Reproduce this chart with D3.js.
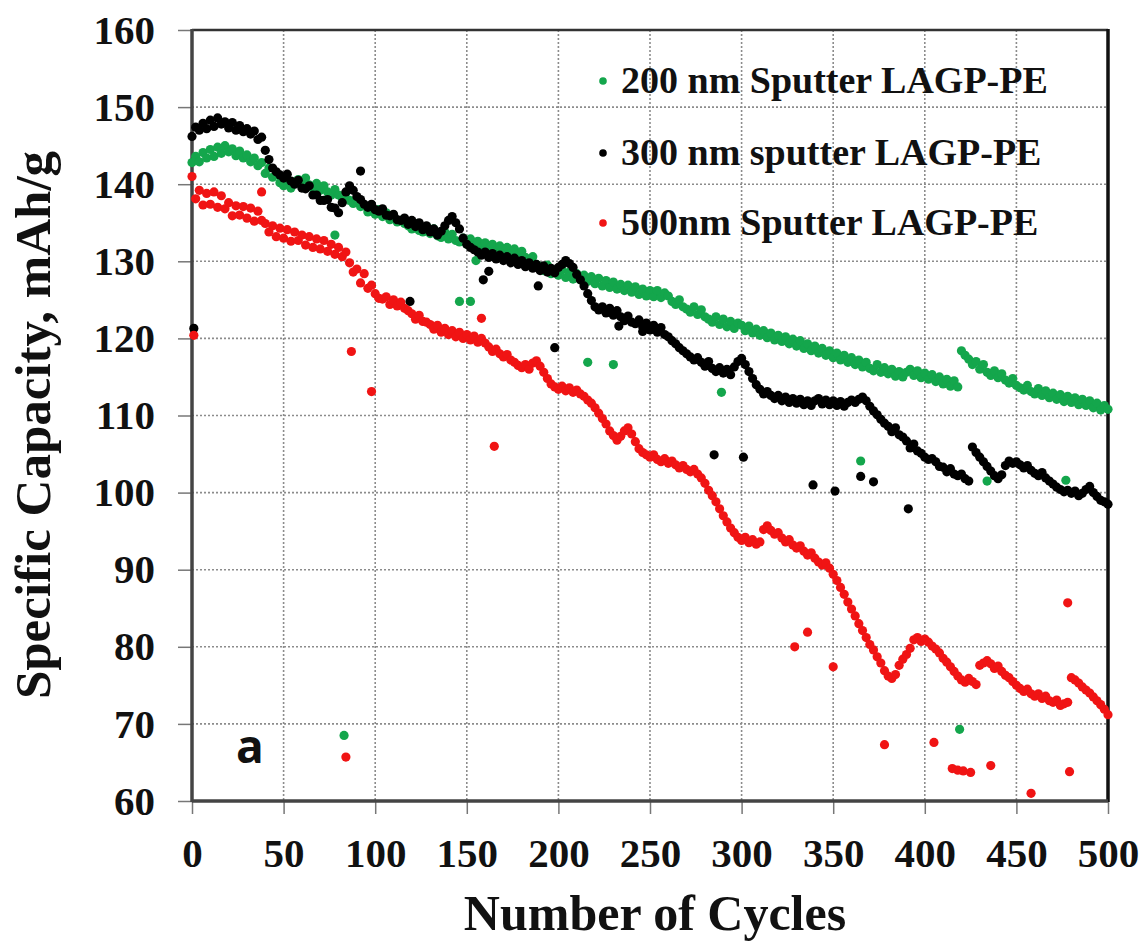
<!DOCTYPE html>
<html>
<head>
<meta charset="utf-8">
<script src="https://cdn.jsdelivr.net/npm/d3@7"></script>
<style>
  html, body { margin: 0; padding: 0; background: #fff; }
  svg { display: block; }
</style>
</head>
<body>
<svg id="chart" width="1146" height="941"></svg>
<script>
// Specific capacity (mAh/g) vs. cycle number for three sputtered LAGP-PE separators.
const seriesNames = ["200 nm Sputter LAGP-PE", "300 nm sputter LAGP-PE", "500nm Sputter LAGP-PE"];
const seriesColors = ["#14a64c", "#000000", "#f01414"];
const xTicks = [0, 50, 100, 150, 200, 250, 300, 350, 400, 450, 500];
const yTicks = [60, 70, 80, 90, 100, 110, 120, 130, 140, 150, 160];

// cycle numbers of the main trace (every second cycle)
const cycles = d3.range(0, 501, 2);

const cap200 = [
  142.8,143.6,142.9,144.1,143.4, 144.5,143.6,144.8,144.0,145.0,
  144.2,144.6,143.7,144.3,143.4, 143.8,142.9,143.4,142.4,142.8,
  141.4,142.1,140.9,141.3,140.2, 139.8,140.5,139.5,140.3,140.6,
  140.0,140.8,139.9,139.5,140.1, 139.2,139.8,139.0,138.6,139.3,
  138.6,138.2,138.9,137.9,137.5, 138.0,137.1,137.2,136.4,136.9,
  136.1,136.7,135.8,136.3,135.4, 135.9,135.1,135.3,134.9,134.6,
  134.2,134.9,134.0,133.8,134.5, 133.6,134.2,133.3,133.1,133.8,
  132.9,133.5,132.7,132.5,133.0, 132.2,132.9,132.0,132.6,131.8,
  132.4,131.6,132.2,131.4,132.0, 131.2,131.8,131.0,131.6,130.8,
  131.3,130.5,130.0,130.6,129.6, 129.3,128.8,129.5,128.4,128.9,
  128.2,128.9,127.9,128.6,127.7, 128.4,127.6,128.2,127.4,128.0,
  127.1,127.8,126.8,127.5,126.6, 127.3,126.4,127.0,126.2,126.9,
  126.0,126.7,125.7,126.4,125.5, 126.2,125.4,126.2,125.3,125.9,
  125.5,124.8,124.4,125.0,124.1, 123.8,123.4,124.1,123.1,123.7,
  122.8,122.5,122.1,122.8,121.8, 122.5,121.5,122.2,121.3,122.0,
  121.7,121.0,121.6,120.7,121.2, 120.4,121.0,120.1,120.7,119.8,
  120.4,119.6,120.2,119.3,119.9, 119.0,119.7,118.7,119.3,118.4,
  119.0,118.1,118.7,117.8,118.4, 117.5,118.1,117.2,117.8,116.9,
  117.5,116.6,117.2,116.3,116.9, 116.1,115.8,116.6,115.6,116.2,
  115.4,116.0,115.1,115.7,115.0, 115.6,116.0,115.2,115.8,114.9,
  115.5,114.7,115.3,114.4,115.0, 114.1,114.7,113.8,114.5,113.7,
  118.4,117.8,117.3,116.6,117.0, 116.0,116.6,115.6,115.2,115.8,
  114.9,115.4,114.6,114.2,114.8, 113.9,113.6,113.3,113.9,113.1,
  112.8,113.5,112.6,113.2,112.3, 112.9,112.1,112.7,111.8,112.5,
  111.7,112.3,111.4,112.1,111.3, 111.9,111.0,111.6,110.7,111.3,
  110.8
];

const cap300 = [
  146.2,147.4,147.0,147.9,147.2, 148.3,147.5,148.6,147.8,148.1,
  147.3,148.0,147.0,147.6,146.8, 147.2,146.5,146.9,145.8,146.1,
  144.4,143.2,142.1,141.6,141.2, 140.8,141.3,140.4,140.0,140.5,
  139.5,139.4,139.8,138.6,138.6, 137.9,137.9,138.0,137.0,136.9,
  136.3,137.6,139.0,139.8,139.2, 138.4,138.0,137.4,137.0,137.4,
  136.7,136.5,136.8,136.0,135.9, 136.1,135.4,135.3,135.6,134.8,
  135.3,134.5,135.0,134.1,134.6, 133.8,134.2,133.4,133.9,134.6,
  135.3,135.8,135.0,134.2,133.0, 132.2,131.8,131.5,131.2,130.8,
  131.2,130.5,131.0,130.3,130.8, 130.1,130.6,129.8,130.4,129.6,
  130.1,129.3,129.8,129.1,129.6, 128.8,129.4,128.6,129.1,128.5,
  129.2,129.6,130.1,129.7,129.2, 128.3,127.6,126.8,125.8,124.9,
  124.1,123.7,124.1,123.3,123.9, 123.0,123.6,122.8,122.3,122.9,
  122.1,121.9,122.4,121.5,122.0, 121.1,121.7,120.8,121.4,120.5,
  120.2,119.7,119.3,118.8,118.4, 118.0,117.6,117.2,117.5,116.9,
  116.4,117.0,116.1,115.7,116.2, 115.5,116.0,115.3,116.3,117.0,
  117.4,116.6,115.7,114.8,114.0, 113.4,112.8,113.1,112.6,112.2,
  112.6,111.9,112.4,111.7,112.2, 111.6,112.1,111.4,111.9,111.3,
  111.9,112.2,111.5,112.0,111.4, 111.9,111.3,111.8,111.2,111.7,
  112.0,111.7,112.1,112.4,111.9, 111.2,110.6,110.1,109.5,109.0,
  108.6,107.9,108.4,107.5,107.2, 106.7,105.8,106.3,105.4,105.1,
  104.6,104.3,104.4,104.0,103.4, 103.3,102.7,103.1,102.4,102.2,
  102.4,101.8,101.5,105.9,105.2, 104.6,104.0,103.4,102.8,102.2,
  101.8,102.3,103.5,104.1,103.8, 104.0,103.6,103.2,103.5,102.9,
  102.5,102.2,102.6,101.9,101.5, 101.1,100.7,100.4,100.1,100.3,
   99.9,100.2, 99.6, 99.9,100.4, 100.8,100.0, 99.5, 99.0, 98.8,
   98.5
];

const cap500 = [
  141.0,138.1,139.2,137.3,138.8, 137.4,139.0,137.0,138.5,136.8,
  137.6,135.9,137.2,136.0,137.1, 135.6,136.9,135.2,136.5,135.3,
  134.9,133.8,134.6,133.2,134.3, 133.0,134.1,132.6,133.8,132.7,
  133.4,132.1,133.2,131.8,132.9, 131.6,132.7,131.3,132.2,130.9,
  131.8,130.6,131.2,129.8,128.6, 129.0,127.2,128.4,126.5,126.9,
  125.8,125.2,125.1,125.4,124.4, 125.0,124.2,124.7,123.9,123.6,
  123.2,122.5,123.0,122.2,122.1, 121.8,121.2,121.7,120.8,121.3,
  120.5,121.0,120.2,120.8,120.0, 120.5,119.8,120.3,119.5,120.0,
  119.4,118.9,118.3,118.6,118.0, 117.6,117.9,117.2,116.9,116.5,
  116.2,116.6,116.0,116.8,117.1, 116.4,115.6,114.8,114.1,113.7,
  113.4,113.8,113.2,113.6,113.0, 113.3,112.8,112.5,112.0,111.6,
  111.0,110.3,109.6,108.9,108.0, 107.4,106.8,107.3,108.0,108.4,
  107.6,106.6,105.7,105.2,104.9, 104.6,104.9,104.3,104.0,104.4,
  103.8,104.1,103.6,103.2,103.5, 103.0,102.7,103.0,102.4,101.9,
  101.2,100.3, 99.6, 98.8, 97.9,  97.0, 96.2, 95.4, 94.8, 94.2,
   93.8, 94.2, 93.5, 93.9, 93.3,  93.6, 95.2, 95.7, 95.1, 94.6,
   94.8, 94.1, 93.6, 93.9, 93.2,  92.8, 93.1, 92.4, 91.9, 92.2,
   91.5, 91.0, 90.6, 90.9, 90.2,  89.4, 88.6, 87.7, 86.8, 85.8,
   84.9, 84.0, 83.0, 82.1, 81.2,  80.3, 79.6, 78.7, 77.9, 76.9,
   76.2, 75.9, 76.4, 77.6, 78.4,  79.0, 79.8, 80.9, 81.2, 80.7,
   81.0, 80.6, 80.1, 79.7, 79.2,  78.5, 78.0, 77.4, 76.8, 76.2,
   75.7, 75.4, 75.9, 75.5, 75.1,  77.6, 77.9, 78.2, 77.8, 77.2,
   77.5, 76.8, 76.3, 76.0, 75.5,  75.0, 74.6, 74.2, 74.5, 73.9,
   73.6, 73.9, 73.3, 73.6, 73.0,  72.8, 73.1, 72.4, 72.6, 72.8,
   76.0, 75.7, 75.3, 74.8, 74.4,  74.0, 73.5, 73.0, 72.5, 71.9,
   71.2
];

// isolated readings away from the main trace: [cycle, capacity]
const stray200 = [[78,133.4],[83,68.5],[146,124.8],[152,124.8],[155,130.1],[216,116.9],
  [230,116.6],[289,113.0],[365,104.1],[419,69.3],[434,101.5],[477,101.6]];
const stray300 = [[1,121.3],[92,141.7],[119,124.8],[159,127.6],[162,128.7],[189,126.8],
  [198,118.8],[233,121.6],[246,120.9],[285,104.9],[301,104.6],[339,101.0],[351,100.2],
  [365,102.1],[372,101.4],[391,97.9]];
const stray500 = [[1,120.4],[38,139.0],[84,65.7],[87,118.3],[98,113.1],[158,122.6],[165,106.0],
  [329,80.0],[336,81.9],[350,77.4],[378,67.3],[405,67.6],[415,64.2],[418,64.0],[421,63.9],
  [425,63.7],[436,64.6],[458,61.0],[478,85.7],[479,63.8]];

const traces = [cap200, cap300, cap500];
const strays = [stray200, stray300, stray500];

const svg = d3.select("#chart");
const W = 1146, H = 941;
const plot = { left: 192, right: 1108, top: 30, bottom: 801 };

const x = d3.scaleLinear().domain([0, 500]).range([plot.left, plot.right]);
const y = d3.scaleLinear().domain([60, 160]).range([plot.bottom, plot.top]);

svg.append("rect").attr("width", W).attr("height", H).attr("fill", "#fff");

const serif = "'Liberation Serif', 'Times New Roman', serif";

// dotted grid
const grid = svg.append("g");
grid.selectAll("line.h").data(yTicks.filter(v => v > 60 && v < 160)).join("line")
  .attr("x1", plot.left).attr("x2", plot.right)
  .attr("y1", d => y(d)).attr("y2", d => y(d))
  .attr("stroke", "#8c8c8c").attr("stroke-width", 1.6).attr("stroke-dasharray", "2,2");
grid.selectAll("line.v").data(xTicks.filter(v => v > 0 && v < 500)).join("line")
  .attr("y1", plot.top).attr("y2", plot.bottom)
  .attr("x1", d => x(d)).attr("x2", d => x(d))
  .attr("stroke", "#8c8c8c").attr("stroke-width", 1.6).attr("stroke-dasharray", "2,2");

// axes
const yAxis = svg.append("g").attr("transform", `translate(${plot.left},0)`)
  .call(d3.axisLeft(y).tickValues(yTicks).tickSize(14).tickPadding(23).tickFormat(d3.format("d")));
const xAxis = svg.append("g").attr("transform", `translate(0,${plot.bottom})`)
  .call(d3.axisBottom(x).tickValues(xTicks).tickSize(13).tickFormat(d3.format("d")));
[yAxis, xAxis].forEach(g => {
  g.select(".domain").remove();
  g.selectAll(".tick line").attr("stroke", "#777").attr("stroke-width", 1.5);
  g.selectAll(".tick text").attr("fill", "#111")
    .style("font-family", serif).style("font-weight", "bold").style("font-size", "41px");
});
xAxis.selectAll(".tick text").attr("y", 66).attr("dy", 0);

// frame
svg.append("line").attr("x1", plot.left).attr("x2", plot.right).attr("y1", plot.top).attr("y2", plot.top)
  .attr("stroke", "#333").attr("stroke-width", 2.5);
svg.append("line").attr("x1", plot.right).attr("x2", plot.right).attr("y1", plot.top - 1).attr("y2", plot.bottom + 1)
  .attr("stroke", "#111").attr("stroke-width", 3.5);
svg.append("line").attr("x1", plot.left).attr("x2", plot.left).attr("y1", plot.top - 1).attr("y2", plot.bottom + 1)
  .attr("stroke", "#444").attr("stroke-width", 3.5);
svg.append("line").attr("x1", plot.left).attr("x2", plot.right).attr("y1", plot.bottom).attr("y2", plot.bottom)
  .attr("stroke", "#444").attr("stroke-width", 3.5);

// data points
const marks = svg.append("g");
traces.forEach((vals, i) => {
  const pts = vals.map((v, j) => [cycles[j], v]).concat(strays[i]);
  marks.append("g").selectAll("circle").data(pts).join("circle")
    .attr("cx", d => x(d[0])).attr("cy", d => y(d[1])).attr("r", 4.6)
    .attr("fill", seriesColors[i]);
});

// legend
const legendRows = [93, 165, 235];
const legend = svg.append("g");
seriesNames.forEach((name, i) => {
  legend.append("circle").attr("cx", 603).attr("cy", legendRows[i] - 12).attr("r", 3.8)
    .attr("fill", seriesColors[i]);
  legend.append("text").attr("x", 621).attr("y", legendRows[i]).text(name)
    .style("font-family", serif).style("font-weight", "bold").style("font-size", "38px")
    .attr("fill", "#111");
});

// panel letter
svg.append("text").attr("x", 236).attr("y", 763).text("a")
  .style("font-family", "'Open Sans', sans-serif").style("font-weight", "bold").style("font-size", "46px")
  .attr("fill", "#111");

// axis titles
svg.append("text").attr("x", 655).attr("y", 930).attr("text-anchor", "middle")
  .text("Number of Cycles")
  .style("font-family", serif).style("font-weight", "bold").style("font-size", "50px").attr("fill", "#111");
svg.append("text").attr("transform", "translate(50,425) rotate(-90)").attr("text-anchor", "middle")
  .text("Specific Capacity, mAh/g")
  .style("font-family", serif).style("font-weight", "bold").style("font-size", "51px").attr("fill", "#111");
</script>
</body>
</html>
